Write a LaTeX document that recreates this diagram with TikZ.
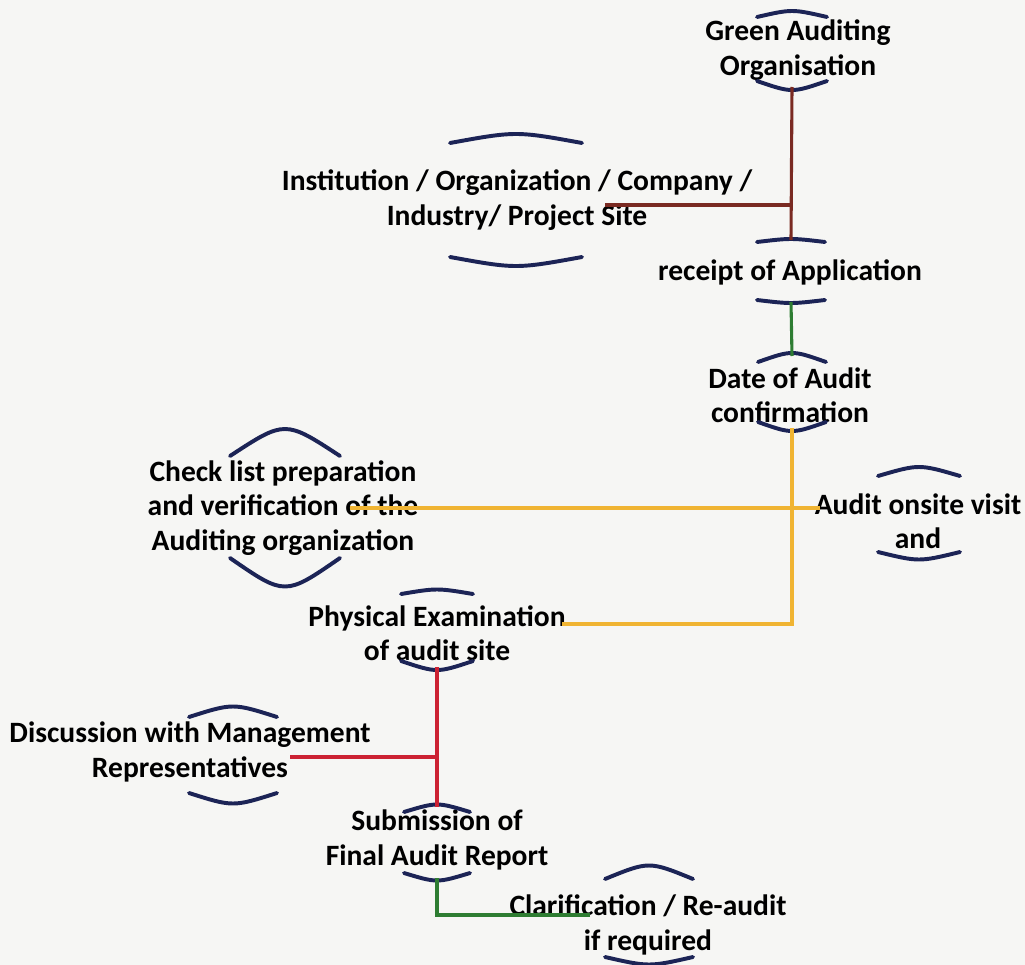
\documentclass[tikz,border=0pt]{standalone}
\usepackage{fontspec}
\setmainfont{Carlito}
\usetikzlibrary{calc}

\definecolor{capblue}{HTML}{1C2456}
\definecolor{linebrown}{HTML}{7A2A22}
\definecolor{linegreen}{HTML}{2E7D32}
\definecolor{lineorange}{HTML}{F0B432}
\definecolor{linered}{HTML}{CC2233}
\definecolor{paper}{HTML}{F6F6F4}

% node, dx, half width, top, bottom, depth top, depth bottom
\newcommand\stagecaps[7]{%
  \coordinate (#1-t) at ($(#1)+(#2,-#4)$);
  \coordinate (#1-b) at ($(#1)+(#2,#5)$);
  \draw[capline] ($(#1-t)+(-#3,#6)$) .. controls ($(#1-t)+(0,-#6)$) .. ($(#1-t)+(#3,#6)$);
  \draw[capline] ($(#1-b)+(-#3,-#7)$) .. controls ($(#1-b)+(0,#7)$) .. ($(#1-b)+(#3,-#7)$);
}

\begin{document}
\begin{tikzpicture}[x=0.025cm, y=-0.025cm,
    stage/.style={align=center, inner sep=0pt,
      font=\bfseries\fontsize{21}{24.5}\selectfont},
    capline/.style={capblue, line width=2.8pt, line cap=round},
    link/.style={line width=2.2pt}]
  \fill[paper] (0,0) rectangle (1025,965);
  \useasboundingbox (0,0) rectangle (1025,965);

  \node[stage] (gao) at (798,50) {Green Auditing\\Organisation};
  \node[stage] (inst) at (517,200) {Institution / Organization / Company /\\Industry/ Project Site};
  \node[stage] (rcpt) at (790,272) {receipt of Application};
  \node[stage] (date) at (790,395) {Date of Audit\\confirmation};
  \node[stage] (check) at (283,508) {Check list preparation\\and verification of the\\Auditing organization};
  \node[stage] (onsite) at (918,521) {Audit onsite visit\\and};
  \node[stage] (phys) at (437,633) {Physical Examination\\of audit site};
  \node[stage] (disc) at (190,752) {Discussion with Management\\Representatives};
  \node[stage] (sub) at (437,840) {Submission of\\Final Audit Report};
  \node[stage] (clar) at (648,925) {Clarification / Re-audit\\if required};

  \stagecaps{gao}{-6}{35}{37}{37}{4}{6}
  \stagecaps{inst}{-1}{66}{63}{63}{6}{6}
  \stagecaps{rcpt}{1}{34}{32}{30}{2}{2}
  \stagecaps{date}{2}{34}{39}{33}{6}{6}
  \stagecaps{check}{2}{55}{70}{69}{18}{19}
  \stagecaps{onsite}{1}{41}{51}{36}{6}{5}
  \stagecaps{phys}{0}{36}{42}{34}{3}{6}
  \stagecaps{disc}{43}{44}{42}{48}{7}{7}
  \stagecaps{sub}{0}{33}{33}{38}{5}{5}
  \stagecaps{clar}{1}{44}{55}{37}{9}{5}

  \coordinate (instline) at (605,205);
  \coordinate (checkline) at (350,508);
  \coordinate (onsiteline) at (820,508);
  \coordinate (physline) at (562,624);
  \coordinate (discline) at (290,757);
  \coordinate (clarline) at (590,915);

  \draw[link, linebrown] (gao-b) -- (rcpt-t);
  \draw[link, linebrown] (instline) -- (instline -| gao-b);
  \draw[link, linegreen] (rcpt-b) -- (date-t);
  \draw[link, lineorange] (date-b) |- (physline);
  \draw[link, lineorange] (checkline) -- (onsiteline);
  \draw[link, linered] (phys-b) -- (sub-t);
  \draw[link, linered] (discline) -- (discline -| phys-b);
  \draw[link, linegreen] (sub-b) |- (clarline);
\end{tikzpicture}
\end{document}
